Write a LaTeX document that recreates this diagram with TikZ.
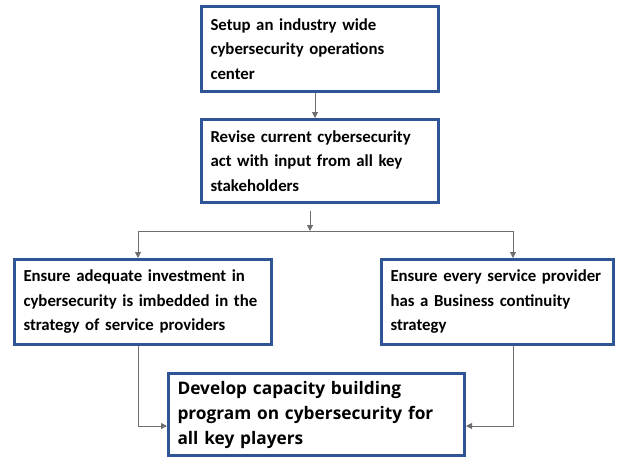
\documentclass[tikz,border=0pt]{standalone}
\usepackage{fontspec}
\setmainfont{Carlito}
\newfontfamily\bigfont{Open Sans}
\usetikzlibrary{arrows.meta}
\definecolor{boxblue}{RGB}{47,85,151}
\definecolor{linegray}{RGB}{110,110,110}
\begin{document}
\begin{tikzpicture}[x=1pt,y=-1pt,
  box/.style={draw=boxblue, line width=3pt, fill=white, inner xsep=9pt, inner ysep=0pt, align=left, anchor=north west,
    font=\bfseries\fontsize{16.8}{24.5}\selectfont},
  bigbox/.style={box, font=\bigfont\bfseries\fontsize{17.3}{25}\selectfont},
  conn/.style={draw=linegray, line width=1pt, -{Triangle[length=6pt,width=6pt]}},
  plain/.style={draw=linegray, line width=1pt}]
\useasboundingbox[fill=white] (0,0) rectangle (618,456);
\node[box, minimum width=237pt, minimum height=85pt, text width=219pt] (a) at (200,5)
  {Setup an industry wide\\cybersecurity operations\\center};
\node[box, minimum width=237pt, minimum height=83pt, text width=219pt] (b) at (200,118)
  {Revise current cybersecurity\\act with input from all key\\stakeholders};
\node[box, minimum width=257pt, minimum height=85pt, text width=239pt] (c) at (13,258)
  {Ensure adequate investment in\\cybersecurity is imbedded in the\\strategy of service providers};
\node[box, minimum width=232pt, minimum height=85pt, text width=214pt] (d) at (380,258)
  {Ensure every service provider\\has a Business continuity\\strategy};
\node[bigbox, minimum width=296pt, minimum height=82pt, text width=278pt] (e) at (167,372)
  {Develop capacity building\\program on cybersecurity for\\all key players};
\coordinate (bs) at (310,211);
\coordinate (sp) at (310,231);
\coordinate (hl) at (138,231);
\coordinate (hr) at (513,231);
\coordinate (jl) at (138,426);
\coordinate (jr) at (513,426);
\draw[conn] (a.south -| 315,0) -- (b.north -| 315,0);
\draw[conn] (bs) -- (sp);
\draw[plain] (hl) -- (hr);
\draw[conn] (hl) -- (hl |- c.north);
\draw[conn] (hr) -- (hr |- d.north);
\draw[conn] (c.south -| jl) -- (jl) -- (jl -| e.west);
\draw[conn] (d.south -| jr) -- (jr) -- (jr -| e.east);
\end{tikzpicture}
\end{document}
